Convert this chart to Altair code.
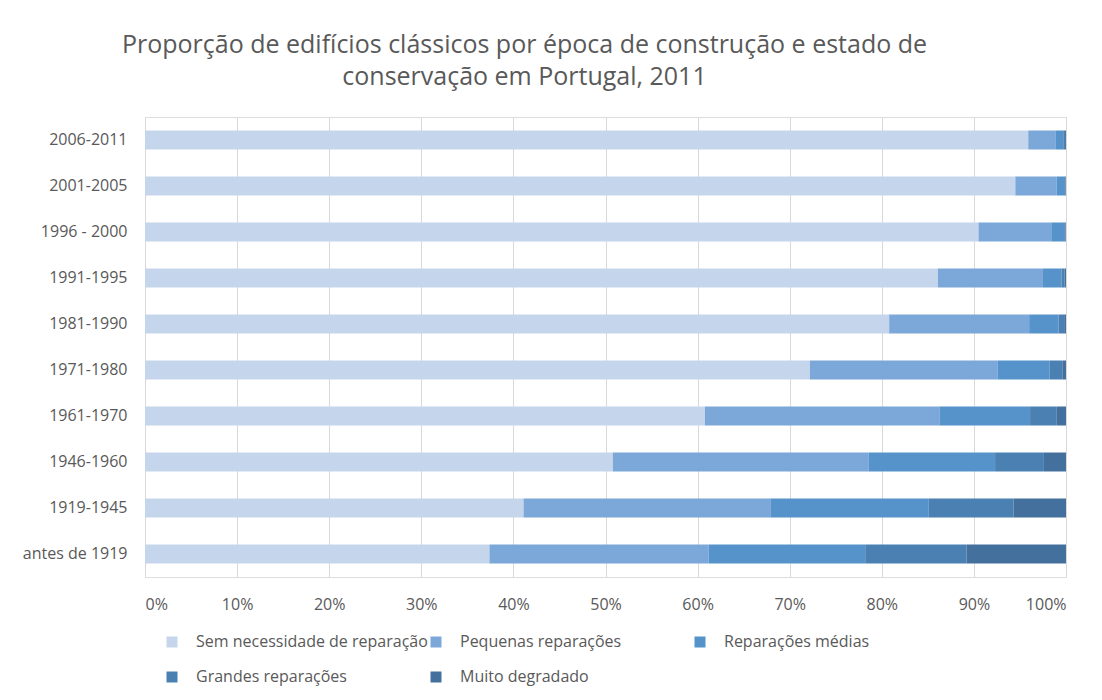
import altair as alt
import pandas as pd

periods = ["2006-2011", "2001-2005", "1996 - 2000", "1991-1995", "1981-1990",
           "1971-1980", "1961-1970", "1946-1960", "1919-1945", "antes de 1919"]
categories = ["Sem necessidade de reparação", "Pequenas reparações",
              "Reparações médias", "Grandes reparações", "Muito degradado"]
sem = [95.9, 94.5, 90.5, 86.1, 80.8, 72.2, 60.8, 50.8, 41.1, 37.4]
peq = [3.0, 4.5, 7.9, 11.4, 15.2, 20.4, 25.5, 27.75, 26.8, 23.8]
med = [0.8, 0.8, 1.4, 2.0, 3.2, 5.6, 9.8, 13.75, 17.2, 17.0]
gra = [0.2, 0.15, 0.15, 0.35, 0.6, 1.4, 2.9, 5.3, 9.2, 11.0]
mui = [0.1, 0.05, 0.05, 0.15, 0.2, 0.4, 1.0, 2.4, 5.7, 10.8]
colors = ["#c5d5eb", "#7ba8d9", "#5693ca", "#4b80b3", "#43709c"]

series = [sem, peq, med, gra, mui]
rows = []
for ci, (cat, vals) in enumerate(zip(categories, series)):
    for p, v in zip(periods, vals):
        rows.append({"periodo": p, "estado": cat, "ordem": ci, "valor": v})
df = pd.DataFrame(rows)

FONT = "Open Sans"
GRAY = "#595959"

chart = alt.Chart(df).mark_bar(size=19).encode(
    y=alt.Y("periodo:N", sort=periods, title=None,
            scale=alt.Scale(paddingInner=0.587, paddingOuter=0.2935),
            axis=alt.Axis(domain=False, ticks=False, labelPadding=18,
                          labelFontSize=16, labelColor=GRAY, labelFont=FONT)),
    x=alt.X("valor:Q", stack="normalize", title=None,
            scale=alt.Scale(domain=[0, 1]),
            axis=alt.Axis(format=".0%", values=[i / 10 for i in range(11)],
                          domain=False, ticks=False, grid=True,
                          gridColor="#d9d9d9", labelPadding=19,
                          labelFontSize=16, labelColor=GRAY, labelFont=FONT)),
    color=alt.Color("estado:N", sort=categories,
                    scale=alt.Scale(domain=categories, range=colors),
                    legend=alt.Legend(title=None, orient="none", legendX=19,
                                      legendY=517, columns=3, gridAlign="all",
                                      direction="horizontal",
                                      columnPadding=0, rowPadding=19,
                                      symbolType="square", symbolSize=121,
                                      symbolStrokeWidth=0, labelOffset=16,
                                      labelFontSize=16, labelColor=GRAY,
                                      labelFont=FONT, labelLimit=400)),
    order=alt.Order("ordem:Q", sort="ascending"),
).properties(
    width=921, height=460,
    padding={"left": 137, "top": 109, "right": 28, "bottom": 115},
    autosize=alt.AutoSizeParams(type="none"),
    title=alt.Title(
        ["Proporção de edifícios clássicos por época de construção e estado de",
         "conservação em Portugal, 2011"],
        anchor="middle", dx=-81, offset=27, fontSize=25, font=FONT,
        fontWeight="normal", color=GRAY, lineHeight=32),
).configure_view(stroke=None).configure(background="white")

chart.save("out.html", embed_options={"renderer": "svg", "actions": False})
